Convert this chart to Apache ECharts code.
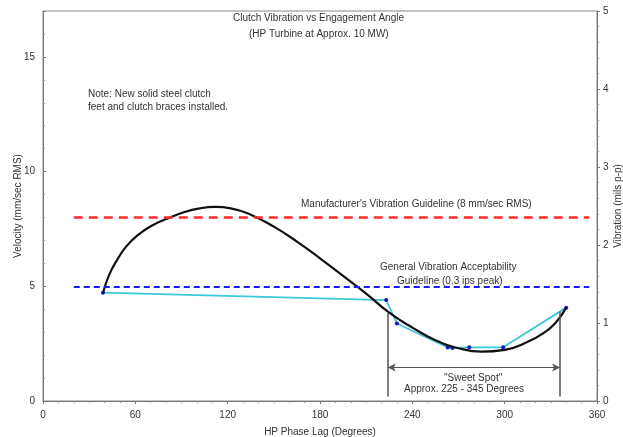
<!DOCTYPE html>
<html><head><meta charset="utf-8">
<script src="https://cdn.jsdelivr.net/npm/echarts@6/dist/echarts.min.js"></script>
<style>html,body{margin:0;padding:0;background:#fff}#c{width:623px;height:437px}</style>
</head><body><div id="c"></div>
<script>
// Measured data (cyan line with dots)
var measAngle = [39, 223, 230, 263, 266, 277, 299, 340];
var measVel   = [4.72, 4.40, 3.38, 2.33, 2.31, 2.34, 2.34, 4.07];
// Fitted curve (black)
var fitAngle = [39, 43, 48, 54, 62, 70, 80, 92, 102, 112, 122, 135, 150, 165, 180, 195, 210, 225, 240, 255, 270, 285, 300, 315, 325, 333, 340];
var fitVel   = [4.72, 5.5, 6.13, 6.73, 7.25, 7.62, 7.93, 8.24, 8.4, 8.46, 8.4, 8.12, 7.6, 6.95, 6.22, 5.45, 4.68, 3.85, 3.2, 2.65, 2.3, 2.15, 2.23, 2.58, 2.95, 3.4, 4.07];
// Guidelines
var mfrGuide = 8, mfrFrom = 20, mfrTo = 355;
var genGuide = 5, genFrom = 20, genTo = 355;
// Sweet spot
var sweetFrom = 224, sweetTo = 336;
var xTicks = [0, 60, 120, 180, 240, 300, 360];

var font = '"Liberation Sans", Arial, sans-serif';
var txt = '#333';
var chart = echarts.init(document.getElementById('c'));
function pairs(a, b) { return a.map(function (v, i) { return [v, b[i]]; }); }

chart.setOption({
  animation: false,
  textStyle: { fontFamily: font },
  grid: { left: 43, right: 26, top: 11, bottom: 36, show: true, borderColor: '#888', borderWidth: 1,
          containLabel: false, outerBoundsMode: 'none' },
  xAxis: {
    type: 'value', min: xTicks[0], max: xTicks[xTicks.length - 1], interval: 60,
    name: 'HP Phase Lag (Degrees)', nameLocation: 'middle', nameGap: 26, nameMoveOverlap: false,
    nameTextStyle: { fontSize: 10, color: txt, fontFamily: font },
    axisLine: { lineStyle: { color: '#777' } },
    axisTick: { length: 3, lineStyle: { color: '#777' } },
    minorTick: { show: true, splitNumber: 6, length: 2, lineStyle: { color: '#999' } },
    axisLabel: { fontSize: 10, color: txt, margin: 9, fontFamily: font },
    splitLine: { show: false }
  },
  yAxis: [{
    type: 'value', min: 0, max: 17, interval: 5,
    name: 'Velocity (mm/sec RMS)', nameLocation: 'middle', nameGap: 20, nameRotate: 90, nameMoveOverlap: false,
    nameTextStyle: { fontSize: 10, color: txt, fontFamily: font },
    axisLine: { show: true, lineStyle: { color: '#777' } },
    axisTick: { show: true, inside: true, length: 3, lineStyle: { color: '#777' } },
    minorTick: { show: true, splitNumber: 5, length: 2, lineStyle: { color: '#999' } },
    axisLabel: { fontSize: 10, color: txt, margin: 8, fontFamily: font,
      formatter: function (v) { return v % 5 === 0 ? v : ''; } },
    splitLine: { show: false }
  }, {
    type: 'value', min: 0, max: 5, interval: 1, position: 'right',
    name: 'Vibration (mils p-p)', nameLocation: 'middle', nameGap: 16, nameRotate: 90, nameMoveOverlap: false,
    nameTextStyle: { fontSize: 10, color: txt, fontFamily: font },
    axisLine: { show: true, lineStyle: { color: '#777' } },
    axisTick: { show: true, length: 3, lineStyle: { color: '#777' } },
    minorTick: { show: true, splitNumber: 5, length: 2, lineStyle: { color: '#999' } },
    axisLabel: { fontSize: 10, color: txt, margin: 6, fontFamily: font },
    splitLine: { show: false }
  }],
  series: [{
    type: 'line', data: pairs(fitAngle, fitVel), smooth: 0.5, showSymbol: false,
    lineStyle: { color: '#111', width: 2.2 }, z: 4,
    markLine: {
      silent: true, symbol: ['none', 'none'], label: { show: false },
      lineStyle: { type: 'solid' },
      data: [
        [{ coord: [mfrFrom, mfrGuide], lineStyle: { color: '#ff2a2a', width: 2.5, type: [9, 6] } }, { coord: [mfrTo, mfrGuide] }],
        [{ coord: [genFrom, genGuide], lineStyle: { color: '#1a1aff', width: 2, type: [6, 4] } }, { coord: [genTo, genGuide] }],
        [{ coord: [sweetFrom, 0.2], lineStyle: { color: '#555', width: 1.5 } }, { coord: [sweetFrom, 3.85] }],
        [{ coord: [sweetTo, 0.2], lineStyle: { color: '#555', width: 1.5 } }, { coord: [sweetTo, 3.9] }]
      ]
    }
  }, {
    type: 'line', data: pairs(measAngle, measVel), showSymbol: true, symbol: 'circle', symbolSize: 4,
    itemStyle: { color: '#1515c8' }, lineStyle: { color: '#3cc8d8', width: 1.8 }, z: 3,
    markLine: {
      silent: true, symbol: ['arrow', 'arrow'], symbolSize: [6, 8], label: { show: false },
      lineStyle: { color: '#555', width: 1.2, type: 'solid' },
      data: [[{ coord: [sweetFrom, 1.46] }, { coord: [sweetTo, 1.46] }]]
    }
  }],
  graphic: [
    { type: 'text', left: 233, top: 13, style: { text: 'Clutch Vibration vs Engagement Angle', font: '10px ' + font, fill: txt } },
    { type: 'text', left: 249, top: 29, style: { text: '(HP Turbine at Approx. 10 MW)', font: '10px ' + font, fill: txt } },
    { type: 'text', left: 88, top: 88, style: { text: 'Note: New solid steel clutch\nfeet and clutch braces installed.', font: '10px ' + font, fill: txt, lineHeight: 13 } },
    { type: 'text', left: 301, top: 199, style: { text: "Manufacturer's Vibration Guideline (8 mm/sec RMS)", font: '10px ' + font, fill: txt } },
    { type: 'text', left: 380, top: 262, style: { text: 'General Vibration Acceptability', font: '10px ' + font, fill: txt } },
    { type: 'text', left: 397, top: 276, style: { text: 'Guideline (0.3 ips peak)', font: '10px ' + font, fill: txt } },
    { type: 'text', left: 444, top: 373, style: { text: '"Sweet Spot"', font: '10px ' + font, fill: txt } },
    { type: 'text', left: 404, top: 384, style: { text: 'Approx. 225 - 345 Degrees', font: '10px ' + font, fill: txt } }
  ]
});
</script></body></html>
